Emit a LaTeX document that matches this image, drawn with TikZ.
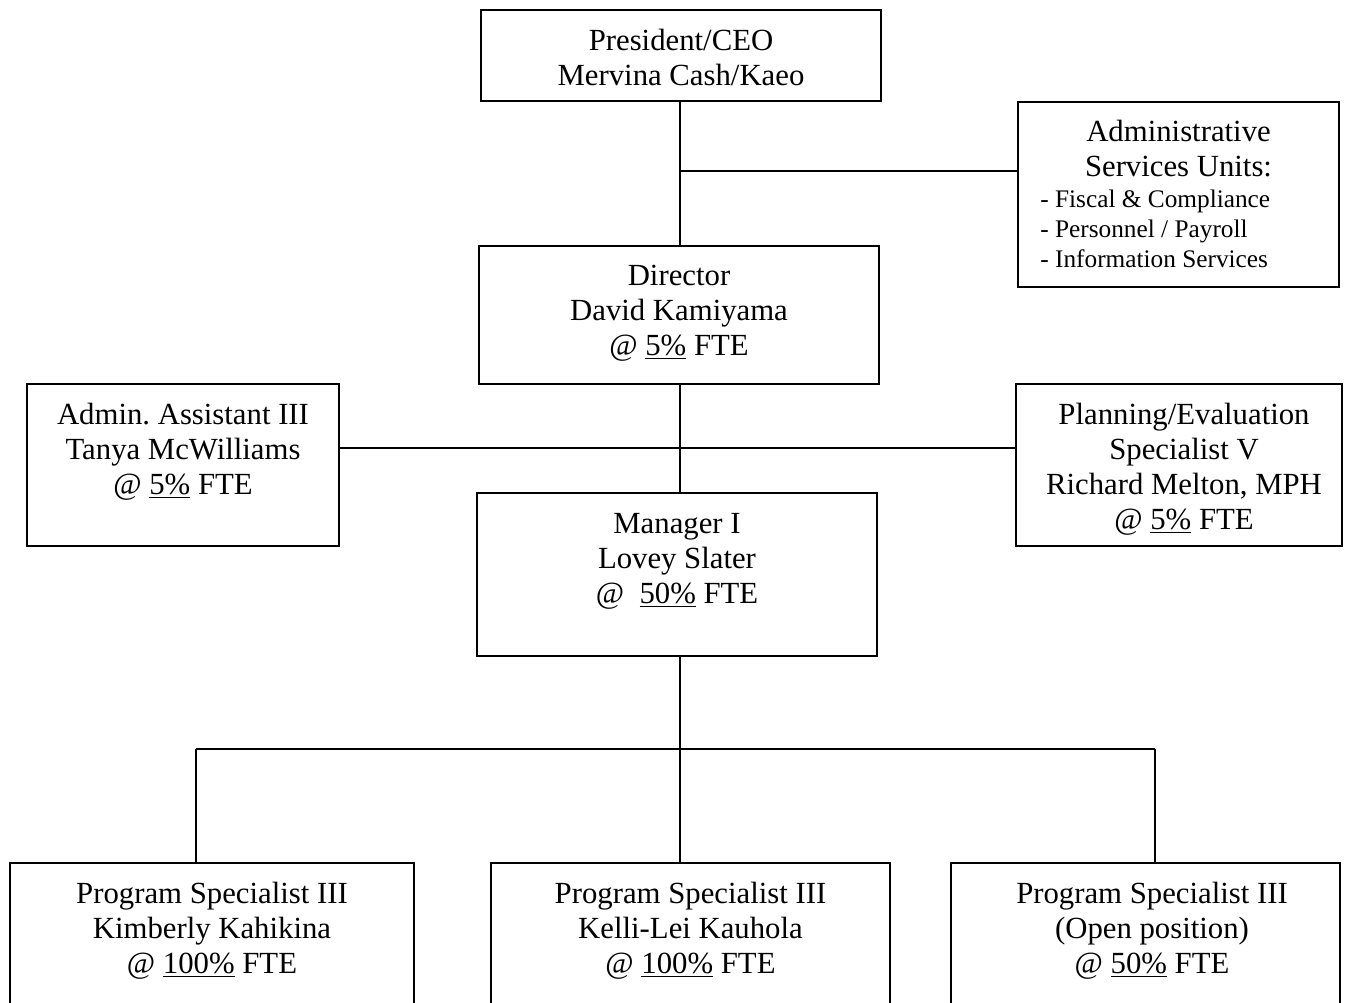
\documentclass[tikz,border=0pt]{standalone}
\usepackage{fontspec}
\setmainfont{Liberation Serif}
\usetikzlibrary{positioning}

\tikzset{
  box/.style={draw, line width=1.1pt, inner sep=0pt},
  role/.style={align=center, inner sep=0pt, font=\fontsize{17.5}{19.9}\selectfont},
  units/.style={align=left, inner sep=0pt, font=\fontsize{14.4}{17}\selectfont},
  link/.style={line width=1pt}
}

\begin{document}
\begin{tikzpicture}[x=0.02cm, y=-0.02cm]
    \useasboundingbox (0,0) rectangle (1354,1002);
    \clip (0,0) rectangle (1354,1002);

    % Boxes
    \node[box, minimum width=8cm, minimum height=1.82cm] (pres) at (681,55.5) {};
    \node[box, minimum width=6.42cm, minimum height=3.7cm] (adm) at (1178.5,194.5) {};
    \node[box, minimum width=8cm, minimum height=2.76cm] (dir) at (679,315) {};
    \node[box, minimum width=6.24cm, minimum height=3.24cm] (asst) at (183,465) {};
    \node[box, minimum width=6.52cm, minimum height=3.24cm] (plan) at (1179,465) {};
    \node[box, minimum width=8cm, minimum height=3.26cm] (mgr) at (677,574.5) {};
    \node[box, minimum width=8.08cm, minimum height=2.94cm] (ps1) at (212,936.5) {};
    \node[box, minimum width=7.98cm, minimum height=2.94cm] (ps2) at (690.5,936.5) {};
    \node[box, minimum width=7.78cm, minimum height=2.94cm] (ps3) at (1145.5,936.5) {};

    % Texts
    \node[role, below=0.33cm of pres.north] (presT) {\strut President/CEO\\Mervina Cash/Kaeo};
    \node[role, below=0.32cm of adm.north] (admT) {\strut Administrative\\Services Units:};
    \node[units, anchor=north west] (admL) at (1040,186) {\strut- Fiscal \& Compliance\\- Personnel / Payroll\\- Information Services};
    \node[role, below=0.32cm of dir.north] (dirT) {\strut Director\\David Kamiyama\\@ \underline{5\%} FTE};
    \node[role, below=0.33cm of asst.north] (asstT) {\strut Admin.\ Assistant III\\Tanya McWilliams\\@ \underline{5\%} FTE};
    \node[role, below=0.33cm of plan.north, xshift=0.1cm] (planT) {\strut Planning/Evaluation\\Specialist V\\Richard Melton, MPH\\@ \underline{5\%} FTE};
    \node[role, below=0.33cm of mgr.north] (mgrT) {\strut Manager I\\Lovey Slater\\@\ \ \underline{50\%} FTE};
    \node[role, below=0.34cm of ps1.north] (ps1T) {\strut Program Specialist III\\Kimberly Kahikina\\@ \underline{100\%} FTE};
    \node[role, below=0.34cm of ps2.north] (ps2T) {\strut Program Specialist III\\Kelli-Lei Kauhola\\@ \underline{100\%} FTE};
    \node[role, below=0.34cm of ps3.north, xshift=0.13cm] (ps3T) {\strut Program Specialist III\\(Open position)\\@ \underline{50\%} FTE};

    % Junctions
    \coordinate (jAdm) at (680,171);
    \coordinate (jStaff) at (680,448);
    \coordinate (jTeam) at (680,749);
    \coordinate (dropL) at (196,749);
    \coordinate (dropR) at (1155,749);

    % Connectors
    \draw[link] (jAdm |- pres.south) -- (jAdm |- dir.north);
    \draw[link] (jAdm) -- (jAdm -| adm.west);
    \draw[link] (jAdm |- dir.south) -- (jAdm |- mgr.north);
    \draw[link] (jStaff -| asst.east) -- (jStaff -| plan.west);
    \draw[link] (jTeam |- mgr.south) -- (jTeam);
    \draw[link] (dropL) -- (dropR);
    \draw[link] (dropL) -- (dropL |- ps1.north);
    \draw[link] (jTeam) -- (jTeam |- ps2.north);
    \draw[link] (dropR) -- (dropR |- ps3.north);
\end{tikzpicture}
\end{document}
